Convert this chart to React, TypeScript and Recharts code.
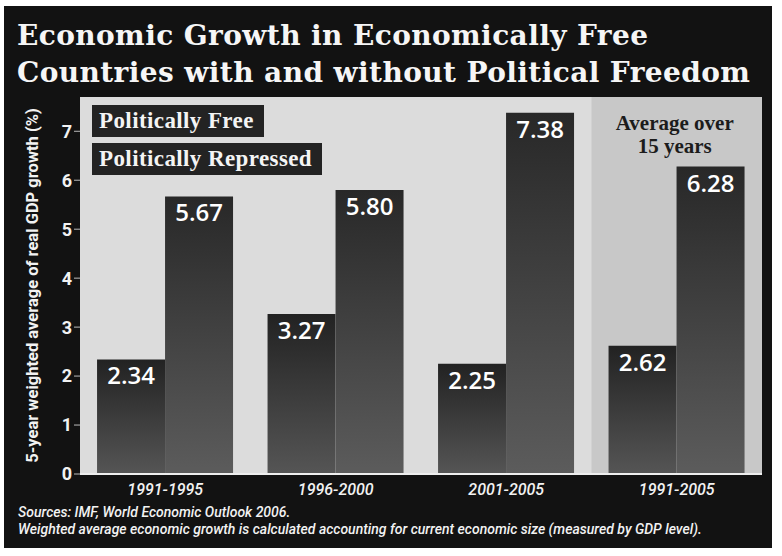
import { BarChart, Bar, XAxis, YAxis, CartesianGrid, ReferenceArea, LabelList, Legend } from 'recharts';

const periods = ['1991-1995', '1996-2000', '2001-2005', '1991-2005'];
const politicallyFree = [2.34, 3.27, 2.25, 2.62];
const politicallyRepressed = [5.67, 5.8, 7.38, 6.28];
const yTicks = [0, 1, 2, 3, 4, 5, 6, 7];
const averagePeriod = '1991-2005';
const averageNote = ['Average over', '15 years'];

const data = periods.map((period, i) => ({
  period,
  free: politicallyFree[i],
  repressed: politicallyRepressed[i],
}));

const sansFont = 'Roboto, "Open Sans", sans-serif';

function LegendBoxes({ payload }: any) {
  return (
    <div>
      {(payload || []).map((entry: any) => (
        <div
          key={entry.value}
          style={{
            display: 'table',
            background: '#232323',
            color: '#f4f4f4',
            fontFamily: '"Liberation Serif", serif',
            fontWeight: 'bold',
            fontSize: 23,
            letterSpacing: 0.4,
            height: 32,
            lineHeight: '32px',
            padding: '0 10px 0 7px',
            marginBottom: 6,
          }}
        >
          {entry.value}
        </div>
      ))}
    </div>
  );
}

function AverageNote({ viewBox }: any) {
  const cx = viewBox.x + viewBox.width / 2 - 2;
  return (
    <text x={cx} textAnchor="middle" fill="#1c1c1c" fontFamily='"Liberation Serif", serif' fontWeight="bold" fontSize={21}>
      <tspan x={cx} y={viewBox.y + 33}>{averageNote[0]}</tspan>
      <tspan x={cx} y={viewBox.y + 56}>{averageNote[1]}</tspan>
    </text>
  );
}

export default function App() {
  return (
    <div style={{ position: 'absolute', left: 0, top: 0, width: 782, height: 556, background: '#fff' }}>
      <svg width={0} height={0} style={{ position: 'absolute' }}>
        <defs>
          <linearGradient id="freeFill" x1="0" y1="0" x2="0" y2="1">
            <stop offset="0%" stopColor="#222" />
            <stop offset="100%" stopColor="#555" />
          </linearGradient>
          <linearGradient id="repFill" x1="0" y1="0" x2="0" y2="1">
            <stop offset="0%" stopColor="#282828" />
            <stop offset="100%" stopColor="#5c5c5c" />
          </linearGradient>
        </defs>
      </svg>
      <div style={{ position: 'absolute', left: 4, top: 6, width: 768, height: 542, background: '#121212' }} />
      <div
        style={{
          position: 'absolute',
          left: 17,
          top: 17,
          color: '#f6f6f6',
          fontFamily: '"DejaVu Serif", serif',
          fontWeight: 'bold',
          fontSize: 28,
          letterSpacing: 0.4,
          lineHeight: '37px',
          whiteSpace: 'nowrap',
        }}
      >
        Economic Growth in Economically Free
        <br />
        Countries with and without Political Freedom
      </div>
      <div style={{ position: 'absolute', left: 0, top: 0 }}>
        <BarChart
          width={782}
          height={556}
          data={data}
          margin={{ top: 97, right: 20, bottom: 52, left: 20 }}
          barCategoryGap="10%"
          barGap={0}
        >
          <CartesianGrid horizontal={false} vertical={false} fill="#dcdcdc" />
          <ReferenceArea
            x1={averagePeriod}
            x2={averagePeriod}
            fill="#c8c8c8"
            fillOpacity={1}
            label={<AverageNote />}
          />
          <XAxis
            dataKey="period"
            height={30}
            tickLine={false}
            tickMargin={4}
            axisLine={{ stroke: '#eee', strokeWidth: 2 }}
            tick={{ fill: '#f2f2f2', fontFamily: sansFont, fontStyle: 'italic', fontWeight: 500, fontSize: 16 }}
          />
          <YAxis
            width={60}
            domain={[0, 7.7]}
            ticks={yTicks}
            axisLine={false}
            tickLine={{ stroke: '#bbb' }}
            tickSize={6}
            tick={{ fill: '#f2f2f2', fontFamily: sansFont, fontWeight: 'bold', fontSize: 18 }}
            label={{
              value: '5-year weighted average of real GDP growth (%)',
              angle: -90,
              position: 'insideLeft',
              offset: 12,
              style: { textAnchor: 'middle', fill: '#f2f2f2', fontFamily: sansFont, fontWeight: 'bold', fontSize: 16.5 },
            }}
          />
          <Legend
            layout="vertical"
            align="center"
            verticalAlign="middle"
            content={<LegendBoxes />}
            wrapperStyle={{ top: 105, left: 92, width: 'auto', height: 'auto' }}
          />
          <Bar dataKey="free" name="Politically Free" fill="url(#freeFill)" isAnimationActive={false}>
            <LabelList
              dataKey="free"
              position="insideTop"
              offset={8}
              formatter={(v: any) => Number(v).toFixed(2)}
              style={{ fill: '#fff', fontFamily: '"Open Sans", sans-serif', fontWeight: 600, fontSize: 24 }}
            />
          </Bar>
          <Bar dataKey="repressed" name="Politically Repressed" fill="url(#repFill)" isAnimationActive={false}>
            <LabelList
              dataKey="repressed"
              position="insideTop"
              offset={8}
              formatter={(v: any) => Number(v).toFixed(2)}
              style={{ fill: '#fff', fontFamily: '"Open Sans", sans-serif', fontWeight: 600, fontSize: 24 }}
            />
          </Bar>
        </BarChart>
      </div>
      <div
        style={{
          position: 'absolute',
          left: 18,
          top: 504,
          color: '#f2f2f2',
          fontFamily: sansFont,
          fontStyle: 'italic',
          fontWeight: 500,
          fontSize: 14,
          lineHeight: '17px',
          whiteSpace: 'nowrap',
        }}
      >
        Sources: IMF, World Economic Outlook 2006.
        <br />
        Weighted average economic growth is calculated accounting for current economic size (measured by GDP level).
      </div>
    </div>
  );
}
